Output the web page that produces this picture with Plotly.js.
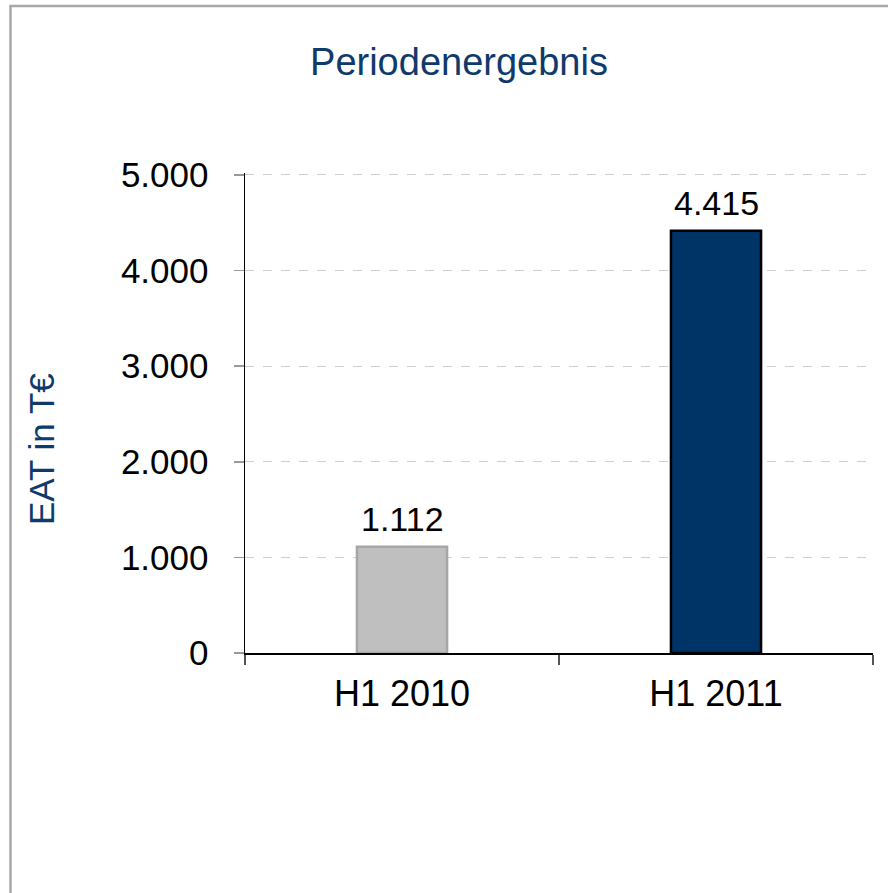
<!DOCTYPE html>
<html>
<head>
<meta charset="utf-8">
<script src="https://cdn.plot.ly/plotly-3.0.1.min.js"></script>
<style>html,body{margin:0;padding:0;background:#fff;} #chart{width:888px;height:893px;}</style>
</head>
<body>
<div id="chart"></div>
<script>
const categories = ["H1 2010", "H1 2011"];
const values = [1112, 4415];
const barColors = ["#BFBFBF", "#003366"];
const barLineColors = ["#A6A6A6", "#000000"];
const yTickVals = [0, 1000, 2000, 3000, 4000, 5000];

const fmt = v => String(v).replace(/\B(?=(\d{3})+(?!\d))/g, ".");

const W = 888, H = 893, L = 245, R = 15, T = 173, B = 240;
const pw = W - L - R, ph = H - T - B;
const px = x => (x - L) / pw;
const py = y => (H - B - y) / ph;
const FONT = "Liberation Sans, Arial, sans-serif";

const trace = {
  type: "bar",
  x: categories,
  y: values,
  marker: {color: barColors, line: {color: barLineColors, width: 2.5}},
  hoverinfo: "skip"
};

const annotations = categories.map((c, i) => ({
  x: c, y: values[i], xref: "x", yref: "y",
  text: fmt(values[i]), showarrow: false,
  yanchor: "bottom", yshift: 7,
  font: {family: FONT, size: 34, color: "#000"}
}));
annotations.push({
  xref: "paper", yref: "paper", x: px(41), y: py(449),
  text: "EAT in T€", textangle: -90, showarrow: false,
  xanchor: "center", yanchor: "middle",
  font: {family: FONT, size: 35, color: "#0f3a6c"}
});

const layout = {
  width: W, height: H,
  margin: {l: L, r: R, t: T, b: B, pad: 0},
  paper_bgcolor: "#fff", plot_bgcolor: "#fff",
  separators: ",.",
  showlegend: false,
  bargap: 0.713,
  title: {
    text: "Periodenergebnis",
    xref: "container", yref: "container",
    x: 459 / W, y: 1 - 62 / H, xanchor: "center", yanchor: "middle",
    font: {family: FONT, size: 38, color: "#0f3a6c"}
  },
  xaxis: {
    type: "category",
    tickson: "boundaries",
    ticks: "outside", ticklen: 10, tickwidth: 1.5, tickcolor: "#555",
    showline: true, linecolor: "#000", linewidth: 1.5,
    showgrid: false, zeroline: false,
    ticklabelstandoff: 8,
    tickfont: {family: FONT, size: 36, color: "#000"}
  },
  yaxis: {
    range: [0, 5020],
    tickvals: yTickVals,
    ticktext: yTickVals.map(fmt),
    ticks: "outside", ticklen: 10, tickwidth: 1.5, tickcolor: "#999",
    showline: true, linecolor: "#000", linewidth: 1.5,
    showgrid: true, gridcolor: "#CFCFCF", griddash: "dash", gridwidth: 1,
    zeroline: false,
    ticklabelstandoff: 18,
    tickfont: {family: FONT, size: 35, color: "#000"}
  },
  annotations: annotations,
  shapes: [{
    type: "path", xref: "paper", yref: "paper",
    path: `M ${px(10.5)} ${py(H + 5)} L ${px(10.5)} ${py(6)} L ${px(W + 5)} ${py(6)}`,
    line: {color: "#A8A8A8", width: 2.5}
  }]
};

Plotly.newPlot("chart", [trace], layout, {displayModeBar: false, staticPlot: true});
</script>
</body>
</html>
